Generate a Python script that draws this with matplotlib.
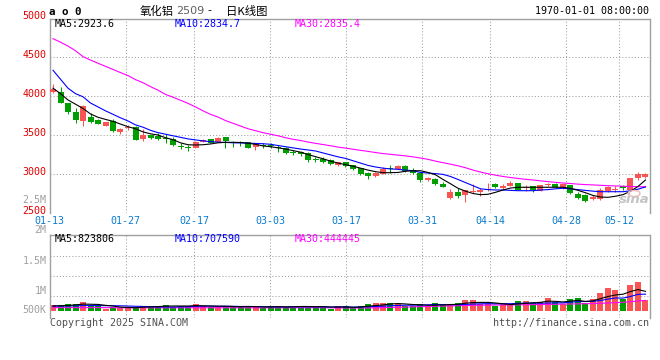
import matplotlib
matplotlib.use("Agg")
import matplotlib.pyplot as plt
from matplotlib.patches import Ellipse

# ---------------- data ----------------
tick_labels = ["01-13", "01-27", "02-17", "03-03", "03-17", "03-31", "04-14", "04-28", "05-12"]
tick_index = [0, 10, 19, 29, 39, 49, 58, 68, 75]
price_ticks = [5000, 4500, 4000, 3500, 3000, 2500]
vol_tick_labels = ["2.5M", "2M", "1.5M", "1M", "500K"]

open_ = [4055, 4055, 3914, 3795, 3683, 3735, 3692, 3619, 3679, 3538,
         3586, 3603, 3449, 3500, 3487, 3462, 3449, 3355, 3335, 3337,
         3410, 3449, 3410, 3474, 3405, 3405, 3406, 3342, 3372, 3370,
         3345, 3329, 3280, 3286, 3265, 3192, 3196, 3179, 3115, 3150,
         3115, 3073, 3017, 2978, 3004, 3068, 3064, 3106, 3051, 3017,
         2923, 2936, 2872, 2688, 2773, 2731, 2768, 2765, 2790, 2872,
         2817, 2846, 2881, 2817, 2846, 2786, 2865, 2876, 2817, 2859,
         2744, 2731, 2676, 2680, 2786, 2800, 2846, 2795, 2945, 2965]
high = [4154, 4119, 3914, 3842, 3880, 3778, 3700, 3670, 3701, 3594,
        3628, 3610, 3573, 3505, 3529, 3513, 3478, 3393, 3372, 3420,
        3445, 3455, 3470, 3480, 3419, 3427, 3410, 3401, 3401, 3401,
        3372, 3350, 3308, 3300, 3286, 3222, 3215, 3195, 3160, 3160,
        3120, 3080, 3025, 3020, 3086, 3115, 3115, 3110, 3080, 3030,
        2965, 2950, 2901, 2804, 2817, 2800, 2868, 2817, 2888, 2888,
        2870, 2910, 2885, 2859, 2850, 2865, 2885, 2885, 2875, 2865,
        2765, 2740, 2731, 2817, 2850, 2850, 2865, 2950, 3022, 3010]
low = [4035, 3910, 3769, 3658, 3619, 3650, 3635, 3610, 3535, 3517,
       3564, 3435, 3419, 3455, 3436, 3393, 3363, 3320, 3299, 3330,
       3405, 3395, 3405, 3337, 3342, 3363, 3330, 3308, 3329, 3329,
       3286, 3256, 3244, 3230, 3158, 3150, 3137, 3120, 3102, 3095,
       3055, 2983, 2940, 2965, 3000, 3017, 3060, 3022, 3005, 2901,
       2915, 2860, 2829, 2680, 2696, 2645, 2760, 2722, 2785, 2817,
       2810, 2840, 2790, 2782, 2773, 2780, 2845, 2825, 2810, 2748,
       2680, 2645, 2670, 2667, 2773, 2773, 2800, 2790, 2923, 2955]
close = [4090, 3914, 3791, 3696, 3876, 3667, 3645, 3663, 3551, 3577,
         3603, 3440, 3500, 3465, 3449, 3449, 3376, 3350, 3329, 3414,
         3436, 3401, 3462, 3419, 3400, 3400, 3337, 3381, 3365, 3362,
         3338, 3273, 3270, 3253, 3179, 3185, 3150, 3128, 3154, 3103,
         3064, 3000, 2978, 3017, 3064, 3060, 3106, 3042, 3017, 2923,
         2953, 2872, 2837, 2773, 2722, 2795, 2775, 2795, 2800, 2837,
         2850, 2888, 2795, 2837, 2795, 2855, 2870, 2833, 2868, 2753,
         2696, 2654, 2701, 2795, 2837, 2810, 2817, 2945, 3000, 2996]

ma5 = [4100, 4030, 3949, 3895, 3840, 3770, 3727, 3700, 3675, 3640,
       3606, 3580, 3540, 3515, 3500, 3465, 3440, 3400, 3375, 3372,
       3375, 3385, 3400, 3406, 3406, 3404, 3395, 3380, 3360, 3350,
       3335, 3320, 3300, 3280, 3250, 3222, 3195, 3165, 3140, 3120,
       3100, 3075, 3050, 3030, 3017, 3017, 3020, 3035, 3042, 3042,
       3020, 2990, 2930, 2875, 2817, 2780, 2750, 2735, 2740, 2765,
       2795, 2820, 2830, 2830, 2830, 2830, 2830, 2830, 2830, 2815,
       2790, 2760, 2725, 2705, 2701, 2715, 2735, 2780, 2840, 2923.6]
ma10 = [4330, 4215, 4100, 4030, 3990, 3910, 3860, 3810, 3765, 3720,
        3680, 3630, 3600, 3560, 3530, 3510, 3490, 3470, 3450, 3437,
        3425, 3415, 3408, 3405, 3400, 3398, 3395, 3392, 3388, 3381,
        3365, 3350, 3335, 3320, 3308, 3295, 3270, 3245, 3220, 3200,
        3170, 3140, 3110, 3090, 3075, 3065, 3060, 3050, 3042, 3020,
        3012, 3005, 2995, 2968, 2930, 2890, 2850, 2810, 2800, 2795,
        2795, 2790, 2786, 2786, 2786, 2795, 2800, 2810, 2817, 2810,
        2800, 2790, 2780, 2773, 2773, 2773, 2773, 2785, 2805, 2834.7]
ma30 = [4735, 4690, 4640, 4580, 4505, 4460, 4420, 4380, 4340, 4300,
        4262, 4210, 4170, 4120, 4075, 4020, 3985, 3945, 3906, 3860,
        3810, 3765, 3730, 3685, 3650, 3615, 3580, 3555, 3530, 3510,
        3490, 3465, 3445, 3430, 3410, 3393, 3378, 3362, 3345, 3332,
        3318, 3303, 3290, 3275, 3262, 3252, 3242, 3232, 3220, 3205,
        3188, 3165, 3145, 3126, 3105, 3080, 3050, 3025, 3003, 2985,
        2968, 2955, 2943, 2932, 2923, 2912, 2902, 2893, 2884, 2878,
        2870, 2864, 2860, 2855, 2850, 2847, 2843, 2840, 2838, 2835.4]

volume = [252000, 252000, 294000, 294000, 392000, 210000, 210000, 98000, 154000, 140000,
          140000, 154000, 210000, 210000, 210000, 252000, 182000, 210000, 210000, 294000,
          210000, 154000, 154000, 210000, 210000, 154000, 210000, 154000, 140000, 210000,
          210000, 154000, 182000, 210000, 210000, 154000, 182000, 84000, 210000, 210000,
          112000, 210000, 294000, 336000, 336000, 336000, 294000, 210000, 210000, 294000,
          210000, 336000, 252000, 294000, 336000, 462000, 462000, 294000, 294000, 210000,
          294000, 294000, 420000, 420000, 336000, 392000, 546000, 378000, 294000, 504000,
          546000, 336000, 504000, 756000, 966000, 882000, 504000, 1092000, 1218000, 462000]
vol_ma5 = [210, 220, 235, 255, 290, 284, 276, 238, 210, 162,
           148, 137, 159, 171, 184, 205, 210, 210, 210, 225,
           218, 212, 202, 202, 186, 175, 185, 185, 172, 172,
           182, 172, 177, 190, 190, 180, 185, 166, 166, 166,
           157, 163, 204, 228, 254, 296, 313, 296, 272, 263,
           239, 247, 255, 272, 280, 329, 353, 361, 361, 337,
           304, 272, 296, 320, 344, 365, 414, 405, 381, 414,
           443, 402, 427, 517, 608, 672, 705, 818, 900, 823.806]
vol_ma10 = [205, 208, 212, 216, 228, 228, 228, 224, 220, 218,
            208, 199, 191, 182, 166, 170, 167, 176, 182, 197,
            203, 203, 199, 199, 199, 189, 192, 186, 180, 173,
            173, 173, 175, 175, 175, 175, 173, 165, 173, 173,
            162, 168, 179, 191, 203, 221, 232, 244, 244, 252,
            260, 273, 269, 265, 265, 277, 292, 301, 309, 301,
            309, 305, 321, 333, 333, 327, 335, 342, 342, 370,
            395, 399, 407, 440, 500, 546, 542, 610, 699, 707.59]
vol_ma30 = [140, 140, 141, 141, 142, 142, 141, 140, 139, 138,
            137, 137, 136, 136, 136, 136, 136, 136, 137, 137,
            137, 137, 136, 136, 136, 135, 135, 135, 135, 136,
            136, 136, 137, 138, 139, 139, 138, 134, 130, 128,
            127, 127, 129, 135, 142, 150, 158, 166, 174, 182,
            190, 198, 206, 214, 222, 230, 238, 244, 248, 251,
            252, 254, 258, 262, 267, 272, 278, 284, 290, 295,
            300, 306, 314, 324, 336, 350, 365, 390, 420, 444.445]

# ---------------- layout (pixel based) ----------------
W, H = 660, 360
L, R = 50, 649.5
PT, PB = 19, 213
VT, VB = 235, 318
X0 = 53.0          # pixel centre of first candle
DX = 7.5           # pixel step per candle
P_PER_PX = 12.82   # price units per pixel
V0_PX = 311.0      # pixel row of zero volume
V_PER_PX = 42000.0

RED = "#F85555"
GREEN = "#009E00"
GRID = "#A0A0A0"
BORDER = "#A0A0A0"
MONO = "DejaVu Sans Mono"

fig = plt.figure(figsize=(6.6, 3.6), dpi=100)
fig.patch.set_facecolor("white")


def fy(py):
    return 1 - py / H


ax = fig.add_axes([L / W, fy(PB), (R - L) / W, (PB - PT) / H])
axv = fig.add_axes([L / W, fy(VB), (R - L) / W, (VB - VT) / H])

xlim = ((L - X0) / DX, (R - X0) / DX)
ax.set_xlim(*xlim)
ax.set_ylim(2500, 2500 + (PB - PT) * P_PER_PX)
axv.set_xlim(*xlim)
axv.set_ylim(-(VB - V0_PX) * V_PER_PX, (V0_PX - VT) * V_PER_PX)

for a in (ax, axv):
    a.set_xticks([])
    a.set_yticks([])
    for s in a.spines.values():
        s.set_color(BORDER)
        s.set_linewidth(1.0)
ax.spines["bottom"].set_visible(False)
axv.spines["bottom"].set_visible(False)

dot = dict(color=GRID, linewidth=0.75, linestyle=(0, (1, 2)), zorder=0.5)

# vertical grid lines at tick dates
grid_x = [t * 1.0125 - 0.42 for t in tick_index]
for gx in grid_x[1:]:
    ax.axvline(gx, **dot)
    axv.axvline(gx, **dot)

# horizontal price grid
for p in price_ticks[1:-1]:
    ax.axhline(p, **dot)
ax.axhline(2500 + 0.4 * P_PER_PX, **dot)

# horizontal volume grid (pixel rows)
for gy in (255.7, 275.7, 295.7):
    f = (VB - gy) / (VB - VT)
    axv.plot([0, 1], [f, f], transform=axv.transAxes, **dot)

idx = list(range(len(close)))
cols = [RED if c > o else GREEN for o, c in zip(open_, close)]

# candles
for i in idx:
    o, c, h, l = open_[i], close[i], high[i], low[i]
    ax.vlines(i, l, h, color=cols[i], linewidth=0.75, zorder=2)
    bot = min(o, c)
    hgt = max(abs(c - o), P_PER_PX * 1.0)
    ax.bar(i, hgt, bottom=bot, width=0.8, color=cols[i], linewidth=0, zorder=3)

lw = 0.8
ax.plot(idx, ma30, color="#FF00FF", linewidth=lw, zorder=4)
ax.plot(idx, ma10, color="#0000FF", linewidth=lw, zorder=4)
ax.plot(idx, ma5, color="#000000", linewidth=lw, zorder=5)

# volume
axv.bar(idx, volume, width=0.8, color=cols, linewidth=0, zorder=2)
axv.plot(idx, [v * 1000 for v in vol_ma30], color="#FF00FF", linewidth=lw, zorder=4)
axv.plot(idx, [v * 1000 for v in vol_ma10], color="#0000FF", linewidth=lw, zorder=4)
axv.plot(idx, [v * 1000 for v in vol_ma5], color="#000000", linewidth=lw, zorder=5)

# ---------------- texts ----------------
fs = 7.2


def ftext(px, py, s, **kw):
    kw.setdefault("family", MONO)
    kw.setdefault("fontsize", fs)
    fig.text(px / W, fy(py), s, **kw)


# price axis labels
for p in price_ticks:
    py = PB - (p - 2500) / P_PER_PX - 1.5
    ftext(46.5, py, str(p), color="#E00000", ha="right", va="center")

# volume axis labels
for s, py in zip(vol_tick_labels, (200.3, 230.0, 261.0, 290.7, 310.3)):
    ftext(46.5, py, s, color="#A0A0A0", ha="right", va="center")

# date labels
for gx, s in zip(grid_x, tick_labels):
    px = X0 + gx * DX
    ftext(px, 221.5, s, color="#0B7BCF", ha="center", va="center")

# legends
ftext(55, 24, f"MA5:{ma5[-1]:.1f}", color="black", va="center")
ftext(175, 24, f"MA10:{ma10[-1]:.1f}", color="#0000FF", va="center")
ftext(295, 24, f"MA30:{ma30[-1]:.1f}", color="#FF00FF", va="center")
ftext(55, 238.5, f"MA5:{vol_ma5[-1] * 1000:.0f}", color="black", va="center")
ftext(175, 238.5, f"MA10:{vol_ma10[-1] * 1000:.0f}", color="#0000FF", va="center")
ftext(295, 238.5, f"MA30:{vol_ma30[-1] * 1000:.0f}", color="#FF00FF", va="center")

# header
ftext(49, 12, "a o 0", color="black", va="center", weight="bold", fontsize=7.8)
cjk = ["Noto Sans CJK SC", "DejaVu Sans"]
fig.text(140 / W, fy(11.5), "氧化铝", family=cjk, fontsize=8.2, va="center", color="black")
fig.text(176.5 / W, fy(11.5), "2509", family="DejaVu Sans", fontsize=8, va="center", color="#606060")
fig.text(207 / W, fy(11.5), "-", family=cjk, fontsize=8.2, va="center", color="black")
fig.text(226 / W, fy(11.5), "日K线图", family=cjk, fontsize=8.2, va="center", color="black")
ftext(649, 11.5, "1970-01-01 08:00:00", color="black", ha="right", va="center")

# footer
ftext(50, 323.5, "Copyright 2025 SINA.COM", color="#505050", va="center")
ftext(649, 323.5, "http://finance.sina.com.cn", color="#505050", ha="right", va="center")

# watermark
fig.text(619 / W, fy(199.5), "sina", family="DejaVu Sans", fontsize=9.5, style="italic",
         weight="bold", color="#C4C4C4", va="center", ha="left")
fig.patches.append(Ellipse((634 / W, fy(193.5)), 12 / W, 6 / H, transform=fig.transFigure,
                           fill=False, edgecolor="#F2B8B8", linewidth=1.0))

fig.savefig("out.png", dpi=100, facecolor="white")
